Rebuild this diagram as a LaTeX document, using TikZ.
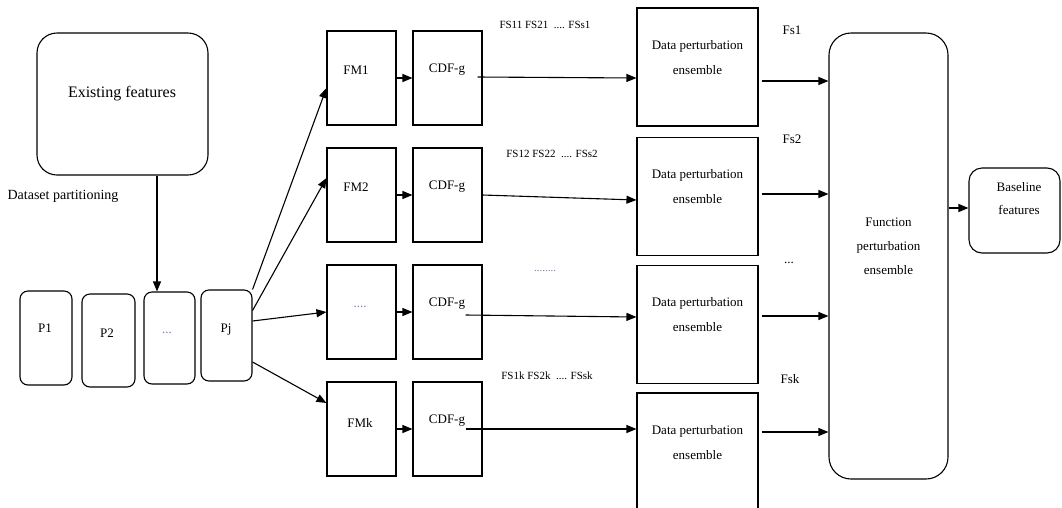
\documentclass[tikz,border=0pt]{standalone}
\usepackage{fontspec}
\setmainfont{Liberation Serif}
\usetikzlibrary{arrows.meta,calc}
\definecolor{dotc}{RGB}{110,130,170}
\begin{document}
\begin{tikzpicture}[x=1pt,y=-1pt,
  box/.style={draw, line width=1.1pt, inner sep=0pt},
  rbox/.style={box, rounded corners=#1},
  arr/.style={line width=1.1pt, -{Triangle[length=10pt,width=8pt]}},
  txt/.style={font=\fontsize{13}{15}\selectfont, inner sep=0pt, align=center},
  dtxt/.style={font=\fontsize{13}{25}\selectfont, inner sep=0pt, align=center},
  small/.style={font=\fontsize{11}{13}\selectfont, inner sep=0pt},
  dots/.style={txt, text=dotc}]
\useasboundingbox (0,0) rectangle (1062,507);

% existing features and partitions
\node[rbox=20pt, minimum width=171pt, minimum height=142pt] (ex) at (122.5,104) {};
\node[font=\fontsize{16}{18}\selectfont, inner sep=0pt] (ext) at (122,94) {Existing features};
\node[font=\fontsize{14}{16}\selectfont, inner sep=0pt] (dsp) at (63,196) {Dataset partitioning};

\node[rbox=8pt, minimum width=52pt, minimum height=94pt] (p1) at (46,338) {};
\node[rbox=8pt, minimum width=53pt, minimum height=93pt] (p2) at (108.5,340.5) {};
\node[rbox=8pt, minimum width=51pt, minimum height=92pt] (p3) at (169.5,338) {};
\node[rbox=8pt, minimum width=51pt, minimum height=91pt] (pj) at (226.5,335.5) {};
\node[txt] (p1t) at (45,328) {P1};
\node[txt] (p2t) at (107,333) {P2};
\node[dots] (p3t) at (167,333) {...};
\node[txt] (pjt) at (226,330) {Pj};

\coordinate (ax) at (157,0);
\draw[arr] (ex.south -| ax) -- (p3.north -| ax);

% FM and CDF-g columns
\foreach \i/\y in {1/78,2/195,3/312,4/429}{
  \node[box, minimum width=69pt, minimum height=94pt] (fm\i) at (361.5,\y) {};
  \node[box, minimum width=69pt, minimum height=94pt] (cdf\i) at (447.5,\y) {};
  \node[txt] (cdft\i) at (447,\y-8) {CDF-g};
  \draw[arr] (fm\i.east) -- (cdf\i.west);
}
\node[txt] (fmt1) at (356,70) {FM1};
\node[txt] (fmt2) at (356,187) {FM2};
\node[dots] (fmt3) at (360,307) {....};
\node[txt] (fmt4) at (360,423) {FMk};

% arrows from Pj to FM boxes
\draw[arr] (pj.north east) -- ($(fm1.west)+(0,10)$);
\draw[arr] ($(pj.east)+(0,-25)$) -- ($(fm2.west)+(0,-17)$);
\draw[arr] ($(pj.east)+(0,-14.5)$) -- (fm3.west);
\draw[arr] ($(pj.east)+(0,26.5)$) -- ($(fm4.west)+(0,-26)$);

% data perturbation ensembles
\foreach \i/\y in {1/67,2/196.5,3/324.5,4/452}{
  \node[box, minimum width=121pt, minimum height=118pt] (dp\i) at (697.5,\y) {};
  \node[dtxt] (dpt\i) at (697.5,\y-9.5) {Data perturbation\\ensemble};
}

% CDF-g to data perturbation
\draw[arr] ($(cdf1.east)+(-5,-1)$) -- ($(dp1.west)+(0,11)$);
\draw[arr] (cdf2.east) -- ($(dp2.west)+(0,3.5)$);
\draw[arr] ($(cdf3.east)+(-17,3)$) -- ($(dp3.west)+(0,-7.5)$);
\draw[arr] ($(cdf4.east)+(-17,0)$) -- ($(dp4.west)+(0,-23)$);

\node[small] (l1) at (545,25) {FS11 FS21 \ .... FSs1};
\node[small] (l2) at (552,154) {FS12 FS22 \ .... FSs2};
\node[small, text=dotc] (l3) at (545,271) {........};
\node[small] (l4) at (547,376) {FS1k FS2k \ .... FSsk};

% function perturbation ensemble
\node[rbox=22pt, minimum width=119pt, minimum height=446pt] (fn) at (888.5,256) {};
\node[font=\fontsize{13}{24}\selectfont, inner sep=0pt, align=center] (fnt) at (888.5,246) {Function\\perturbation\\ensemble};

\foreach \i/\o in {1/14,2/-2.5,3/-8.5,4/-20}{
  \coordinate (s\i) at ($(dp\i.east)+(3,\o)$);
  \draw[arr] (s\i) -- (fn.west |- s\i);
}
\node[txt] (f1) at (792,30) {Fs1};
\node[txt] (f2) at (792,139) {Fs2};
\node[txt] (f3) at (789,263) {...};
\node[txt] (f4) at (790,379) {Fsk};

% baseline features
\node[rbox=13pt, minimum width=91pt, minimum height=85pt] (bl) at (1014.5,210.5) {};
\node[font=\fontsize{13}{23}\selectfont, inner sep=0pt, align=center] (blt) at (1019,198.5) {Baseline\\features};
\coordinate (bx) at (0,208);
\draw[arr] (fn.east |- bx) -- (bl.west |- bx);
\end{tikzpicture}
\end{document}
